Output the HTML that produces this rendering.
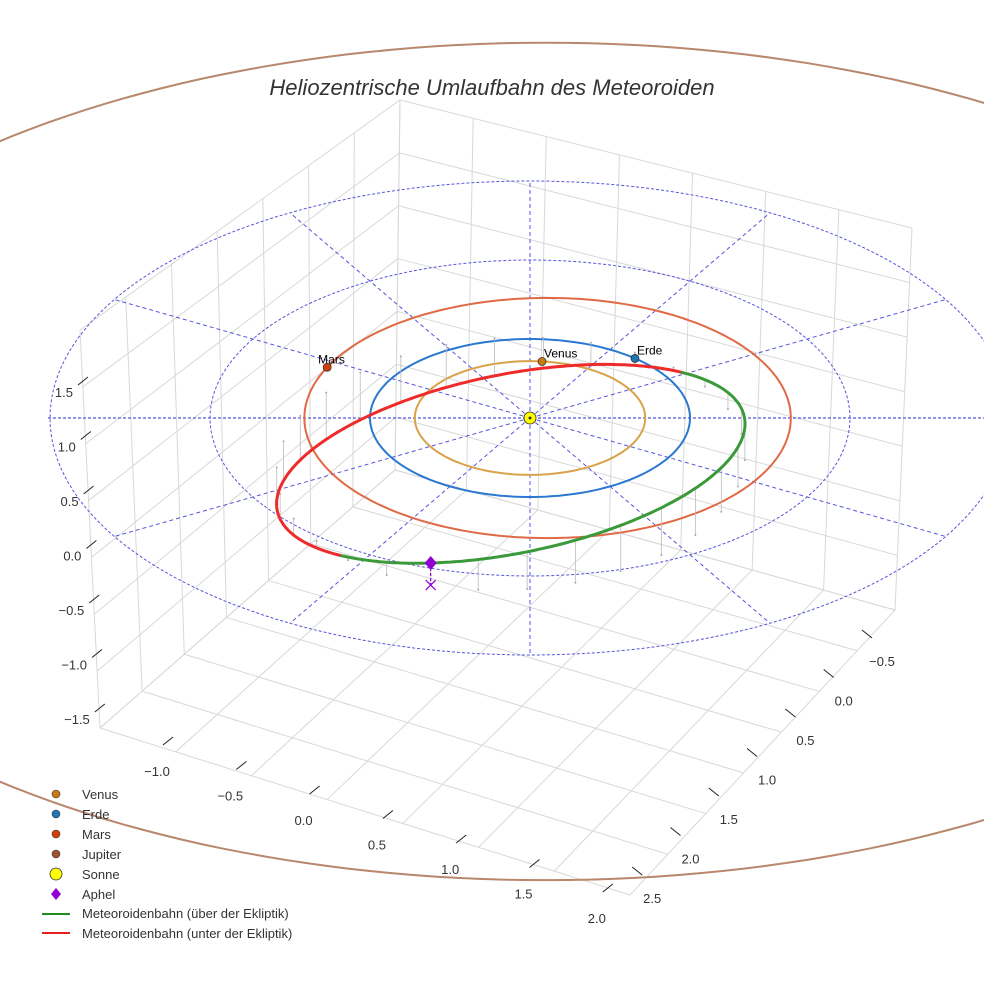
<!DOCTYPE html>
<html><head><meta charset="utf-8"><style>
html,body{margin:0;padding:0;background:#fff;}
svg{display:block;font-family:"Liberation Sans",sans-serif;}
</style></head><body>
<svg id="chart" width="984" height="984" viewBox="0 0 984 984" xmlns="http://www.w3.org/2000/svg">
<rect width="984" height="984" fill="#fff"/>
<g id="grid"></g>
<g id="rings"></g>
<g id="orbits"></g>
<g id="meteor"></g>
<g id="marks"></g>
<g id="ticks"></g>
<text x="492" y="95" text-anchor="middle" font-size="22" font-style="italic" fill="#333">Heliozentrische Umlaufbahn des Meteoroiden</text>
<g font-size="13" fill="#333">
 <g><circle cx="56" cy="794" r="4" fill="#c87c10" stroke="#333" stroke-width="0.6"/><text x="82" y="799">Venus</text></g>
 <g><circle cx="56" cy="814" r="4" fill="#1f77b4" stroke="#333" stroke-width="0.6"/><text x="82" y="819">Erde</text></g>
 <g><circle cx="56" cy="834" r="4" fill="#d2400a" stroke="#333" stroke-width="0.6"/><text x="82" y="839">Mars</text></g>
 <g><circle cx="56" cy="854" r="4" fill="#a0522d" stroke="#333" stroke-width="0.6"/><text x="82" y="859">Jupiter</text></g>
 <g><circle cx="56" cy="874" r="6" fill="#ffff00" stroke="#333" stroke-width="0.8"/><text x="82" y="879">Sonne</text></g>
 <g><polygon points="56,888 61,894 56,900 51,894" fill="#9400d3"/><text x="82" y="899">Aphel</text></g>
 <g><line x1="42" y1="914" x2="70" y2="914" stroke="#228b22" stroke-width="2"/><text x="82" y="918">Meteoroidenbahn (über der Ekliptik)</text></g>
 <g><line x1="42" y1="933" x2="70" y2="933" stroke="#e62020" stroke-width="2"/><text x="82" y="938">Meteoroidenbahn (unter der Ekliptik)</text></g>
</g>
</svg>
<script>
// ---- data ----
const planetNames = ['Venus','Erde','Mars','Jupiter'];
const planetRadiusAU = [0.72, 1.0, 1.52, 5.3];
const planetCenterX = [0, 0, 0.11, 0.1];
const planetCenterY = [0, 0, 0, -0.55];
const planetColors = ['#d9a24a','#2a78d0','#e06a45','#b8876c'];
const planetAngleDeg = [84, 49, 155, null];
const markerColors = ['#c87c10','#1f77b4','#d2400a','#a0522d'];
const ringRadii = [1, 2, 3];
const radialAngles = [30,60,90,120,150,210,240,270,300,330];
const meteorA = [1.615];
const meteorB = [1.448];
const meteorCenter = [-0.12, -0.58];
const meteorDir = [0.31, 0.95];
const meteorZ = [0.42, -0.22];
const zTicks = ['1.5','1.0','0.5','0.0','−0.5','−1.0','−1.5'];
const xTicks = ['−1.0','−0.5','0.0','0.5','1.0','1.5','2.0'];
const yTicks = ['−0.5','0.0','0.5','1.0','1.5','2.0','2.5'];

const NS='http://www.w3.org/2000/svg';
function sx(x){return 530+160*x;}
function sy(y,z){return 418-79*y-100*(z||0);}
function mk(tag,attrs,parent){const e=document.createElementNS(NS,tag);for(const k in attrs)e.setAttribute(k,attrs[k]);parent.appendChild(e);return e;}
function ptsToD(p){return p.map((q,i)=>(i?'L':'M')+q[0].toFixed(1)+' '+q[1].toFixed(1)).join(' ');}

// ---- grid box ----
const grid=document.getElementById('grid');
function lerp(a,b,t){return [a[0]+(b[0]-a[0])*t,a[1]+(b[1]-a[1])*t];}
function pane(p00,p10,p01,p11,nu,nv){
  for(let i=0;i<=nu;i++){const t=i/nu;const a=lerp(p00,p10,t),b=lerp(p01,p11,t);
    const l=mk('line',{x1:a[0],y1:a[1],x2:b[0],y2:b[1],stroke:'#d8d8d8','stroke-width':1},grid);
    }
  for(let j=0;j<=nv;j++){const t=j/nv;const a=lerp(p00,p01,t),b=lerp(p10,p11,t);
    const l=mk('line',{x1:a[0],y1:a[1],x2:b[0],y2:b[1],stroke:'#d8d8d8','stroke-width':1},grid);
    }
}
const T=[400,100],TL=[80,330],TR=[912,228],B=[395,470],L=[100,728],R=[895,610],F=[630,895];
pane(TL,T,L,B,7,7);   // left pane
pane(T,TR,B,R,7,7);   // back pane
pane(L,B,F,R,7,7);    // floor

// ---- rings ----
const rings=document.getElementById('rings');
ringRadii.forEach(r=>{const p=[];for(let k=0;k<=180;k++){const t=k/180*2*Math.PI;p.push([sx(r*Math.cos(t)),sy(r*Math.sin(t))]);}
  const e=mk('path',{d:ptsToD(p),fill:'none',stroke:'#5555dd','stroke-width':1,'stroke-dasharray':'3,2'},rings);
  });
radialAngles.forEach(a=>{const t=a*Math.PI/180,r=ringRadii[ringRadii.length-1];
  const e=mk('line',{x1:sx(0),y1:sy(0),x2:sx(r*Math.cos(t)),y2:sy(r*Math.sin(t)),stroke:'#5555dd','stroke-width':1,'stroke-dasharray':'4,3'},rings);
  });
const hl=mk('line',{x1:48,y1:sy(0),x2:984,y2:sy(0),stroke:'#5555dd','stroke-width':1.2,'stroke-dasharray':'3,2'},rings);


// ---- planet orbits ----
const orbits=document.getElementById('orbits'),marks=document.getElementById('marks');
planetNames.forEach((n,i)=>{const r=planetRadiusAU[i],cx=planetCenterX[i],cy=planetCenterY[i];const p=[];
  for(let k=0;k<=240;k++){const t=k/240*2*Math.PI;p.push([sx(cx+r*Math.cos(t)),sy(cy+r*Math.sin(t))]);}
  const e=mk('path',{d:ptsToD(p),fill:'none',stroke:planetColors[i],'stroke-width':2},orbits);
  
  if(planetAngleDeg[i]!==null){const t=planetAngleDeg[i]*Math.PI/180;const X=sx(cx+r*Math.cos(t)),Y=sy(cy+r*Math.sin(t));
    const c=mk('circle',{cx:X,cy:Y,r:4,fill:markerColors[i],stroke:'#222','stroke-width':0.7},marks);
    
    const tx=mk('text',{x:X-(n==='Mars'?9:-2),y:Y-4,'font-size':12,fill:'#000'},marks);tx.textContent=n;
    }
});

// ---- meteoroid ----
const met=document.getElementById('meteor');
const u=meteorDir,v=[u[1],-u[0]];
function mpos(E){const a=meteorA[0],b=meteorB[0];
  const x=meteorCenter[0]+a*Math.cos(E)*u[0]+b*Math.sin(E)*v[0];
  const y=meteorCenter[1]+a*Math.cos(E)*u[1]+b*Math.sin(E)*v[1];
  const z=meteorZ[0]*Math.sin(E)+meteorZ[1]*Math.cos(E);return [x,y,z];}
for(let k=0;k<30;k++){const E=k/30*2*Math.PI;const q=mpos(E);
  const l=mk('line',{x1:sx(q[0]),y1:sy(q[1],q[2]),x2:sx(q[0]),y2:sy(q[1],0),stroke:'#bbb','stroke-width':0.8},met);
  
  const d=mk('circle',{cx:sx(q[0]),cy:sy(q[1],0),r:1,fill:'#aaa'},met);
  }
let seg=[],cur=null;
for(let k=0;k<=360;k++){const E=k/360*2*Math.PI;const q=mpos(E);const s=q[2]>=0;
  if(cur===null||s!==cur){if(seg.length>1)drawSeg(seg,cur);seg=seg.length?[seg[seg.length-1]]:[];cur=s;}
  seg.push([sx(q[0]),sy(q[1],q[2])]);}
drawSeg(seg,cur);
function drawSeg(p,above){const e=mk('path',{d:ptsToD(p),fill:'none',stroke:above?'#3a9a3a':'#ee2a2a','stroke-width':3,'stroke-linecap':'round'},met);
  }

// sun & aphel
const sun=mk('circle',{cx:sx(0),cy:sy(0),r:6,fill:'#ffff00',stroke:'#222','stroke-width':0.8},marks);

mk('circle',{cx:sx(0),cy:sy(0),r:1.5,fill:'#333'},marks);
const ap=mpos(Math.PI),ax=sx(ap[0]),ay=sy(ap[1],ap[2]),ay0=sy(ap[1],0);
const apl=mk('line',{x1:ax,y1:ay,x2:ax,y2:ay0,stroke:'#9400d3','stroke-width':1.2,'stroke-dasharray':'3,2'},marks);

const apx=mk('path',{d:`M${ax-5} ${ay0-5}L${ax+5} ${ay0+5}M${ax+5} ${ay0-5}L${ax-5} ${ay0+5}`,stroke:'#9400d3','stroke-width':1.2},marks);

const apd=mk('polygon',{points:`${ax},${ay-7} ${ax+6},${ay} ${ax},${ay+7} ${ax-6},${ay}`,fill:'#9400d3'},marks);


// ---- ticks ----
const tk=document.getElementById('ticks');
function tick(x1,y1,x2,y2,lx,ly,txt,anchor,name){
  const l=mk('line',{x1,y1,x2,y2,stroke:'#222','stroke-width':1},tk);
  const t=mk('text',{x:lx,y:ly,'font-size':13,fill:'#333','text-anchor':anchor},tk);t.textContent=txt;
  }
zTicks.forEach((s,i)=>{const y=385+i*54.5,x=75+i*2.8;tick(x+3,y,x+13,y-8,x-2,y+12,s,'end','z-axis');});
xTicks.forEach((s,i)=>{const x=163+i*73.3,y=745+i*24.5;tick(x,y,x+10,y-8,x-6,y+31,s,'middle','x-axis');});
yTicks.forEach((s,i)=>{const x=872-i*38.3,y=638+i*39.5;tick(x-10,y-8,x,y,x+10,y+28,s,'middle','y-axis');});
</script>
</body></html>
